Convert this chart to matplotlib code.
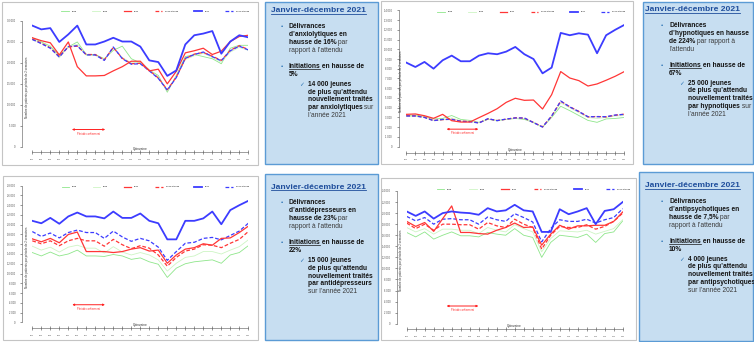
import matplotlib.pyplot as plt
import matplotlib.ticker as mticker
from matplotlib.patches import Rectangle
from matplotlib.lines import Line2D

plt.rcParams['font.family'] = ['Liberation Sans', 'DejaVu Sans']

W, H = 754, 342

quinzaines = ['Q01', 'Q02', 'Q03', 'Q04', 'Q05', 'Q06', 'Q07', 'Q08', 'Q09', 'Q10',
              'Q11', 'Q12', 'Q13', 'Q14', 'Q15', 'Q16', 'Q17', 'Q18', 'Q19', 'Q20',
              'Q21', 'Q22', 'Q23', 'Q24', 'Q25']
series_names = ['2018', '2019', '2020', '2020 attendu', '2021', '2021 attendu']

# anxiolytiques
anx_2018 = [26000, 25000, 24000, 21800, 23800, 25000, 22000, 22000, 21000, 23000, 24000, 21000, 20000,
            18300, 17000, 13000, 17000, 21500, 22000, 21500, 21000, 19800, 23500, 24200, 24200]
anx_2019 = [25500, 24800, 23700, 21200, 24000, 24400, 21800, 21800, 20800, 23500, 21300, 20000, 20200,
            18400, 16600, 13300, 16800, 20800, 21700, 22300, 21300, 20200, 22600, 23700, 23000]
anx_2020 = [26000, 25300, 24800, 21900, 25000, 19100, 16900, 16900, 17000, 18100, 19100, 20400, 20400,
            18100, 18500, 15000, 18000, 22400, 22900, 23500, 22000, 22800, 25100, 26300, 26600]
anx_2020_att = [25700, 24700, 23600, 21500, 23800, 24000, 22000, 22000, 20700, 23700, 21100, 19800, 19900,
                18200, 16400, 13600, 16600, 21000, 22100, 22500, 21600, 20600, 23000, 24100, 23200]
anx_2021 = [28900, 28000, 28300, 25000, 26800, 28900, 24400, 24400, 25100, 26000, 25100, 25100, 23900,
            20600, 20200, 16900, 18200, 24400, 26600, 27000, 27600, 22200, 25100, 26600, 26100]
anx_2021_att = [25600, 24600, 23500, 21400, 23900, 24100, 21900, 21900, 20600, 23800, 21000, 19700, 19800,
                18100, 16300, 13500, 16500, 21100, 22000, 22600, 21500, 20500, 22900, 24000, 23100]

# hypnotiques
hyp_2018 = [3200, 3250, 3100, 2850, 2900, 3200, 2800, 2700, 2500, 2800, 2700, 2800, 2900,
            2800, 2500, 2000, 3000, 4150, 3700, 3200, 2700, 2500, 2850, 2900, 3000]
hyp_2019 = [3100, 3100, 3050, 2700, 2750, 2950, 2650, 2600, 2450, 2850, 2650, 2800, 2900,
            2900, 2450, 2000, 3100, 4500, 4000, 3500, 3000, 2900, 3000, 3150, 3200]
hyp_2020 = [3320, 3360, 3180, 2910, 3320, 2670, 2530, 2530, 2980, 3420, 3900, 4550, 4970,
            4760, 4790, 3870, 5340, 7710, 7050, 6780, 6230, 6440, 6820, 7230, 7710]
hyp_2020_att = [3180, 3170, 3020, 2690, 2780, 2820, 2620, 2590, 2450, 2860, 2690, 2820, 2970,
                2930, 2490, 2040, 3130, 4670, 4100, 3620, 3060, 3100, 3060, 3230, 3340]
hyp_2021 = [8630, 8180, 8700, 8010, 8870, 9350, 8770, 8770, 9350, 9590, 9490, 9760, 10240,
            9490, 9000, 7530, 8120, 11680, 11440, 11640, 11500, 9590, 11440, 12000, 12500]
hyp_2021_att = [3150, 3150, 3000, 2670, 2800, 2800, 2600, 2570, 2430, 2880, 2670, 2840, 2950,
                2950, 2470, 2020, 3150, 4690, 4080, 3600, 3080, 3080, 3080, 3250, 3320]

# antidepresseurs
adep_2018 = [14300, 13600, 14400, 13600, 14000, 14800, 13600, 13600, 13500, 13900, 13600, 12900, 13200,
             12400, 11900, 9200, 11100, 12000, 12400, 12600, 12800, 12100, 13800, 14300, 15700]
adep_2019 = [15600, 14800, 15400, 14400, 15400, 15800, 15200, 15200, 14200, 15500, 14400, 13800, 14300,
             13800, 12800, 10500, 12100, 13300, 13600, 14500, 14500, 14000, 14800, 15500, 16900]
adep_2020 = [17100, 16500, 17200, 16300, 18000, 18500, 14500, 14500, 14500, 14300, 14500, 15000, 15300,
             14600, 14800, 12100, 13800, 15000, 15300, 16100, 15800, 17200, 17300, 18400, 19700]
adep_2020_att = [16700, 16100, 16700, 15700, 16700, 17200, 16700, 16700, 15600, 17000, 15900, 15100, 15700,
                 15200, 13800, 11500, 13300, 14600, 15000, 15900, 15800, 15300, 16200, 17000, 18600]
adep_2021 = [20800, 20300, 21400, 20200, 21700, 22500, 21700, 21700, 21300, 22700, 21400, 21400, 22300,
             20800, 20300, 17000, 17000, 20800, 20800, 21300, 22700, 20100, 23000, 24000, 24900]
adep_2021_att = [18600, 17600, 18300, 17300, 18400, 18900, 18400, 18400, 17200, 18700, 17500, 16600, 17200,
                 16700, 15400, 12700, 14500, 16200, 16400, 17200, 17400, 16900, 17800, 18700, 20300]

# antipsychotiques
apsy_2018 = [16500, 15700, 16600, 15300, 16000, 16600, 15900, 15900, 15700, 16500, 16200, 16000, 17200,
             16000, 15600, 12000, 14700, 16000, 15800, 15600, 16200, 14700, 16300, 16600, 18600]
apsy_2019 = [17400, 16600, 17200, 16200, 17100, 17100, 16900, 16900, 16300, 17400, 16900, 16600, 17900,
             17200, 16600, 13000, 15400, 16800, 16700, 16600, 16900, 16200, 16700, 17200, 18800]
apsy_2020 = [18500, 17600, 18300, 16700, 19000, 21300, 16500, 16500, 16300, 16200, 16900, 17400, 18200,
             17400, 17500, 14200, 16200, 17800, 17100, 17700, 17700, 17800, 17800, 18500, 20200]
apsy_2020_att = [18200, 17200, 18000, 16900, 18000, 18000, 17900, 17900, 17100, 18300, 17700, 17400, 18900,
                 18000, 17400, 13500, 16000, 17600, 17400, 17400, 17900, 17100, 17600, 18500, 20000]
apsy_2021 = [20300, 19500, 20300, 19000, 20000, 20300, 20100, 20000, 19700, 20900, 20300, 20500, 21500,
             20500, 20300, 16600, 16600, 20700, 19800, 20300, 20900, 18000, 20400, 20700, 22000]
apsy_2021_att = [19400, 18600, 19200, 18000, 18900, 19000, 18800, 18800, 18000, 19300, 18800, 18500, 19900,
                 19200, 18400, 14800, 17200, 18800, 18500, 18500, 18900, 18200, 18800, 19200, 20800]

# texte des encadres
notes_anx = [
    ('•', [('Délivrances', 'b')]),
    ('', [('d’anxiolytiques en', 'b')]),
    ('', [('hausse de 16%', 'b'), (' par', 'r')]),
    ('', [('rapport à l’attendu', 'r')]),
    ('•', [('Initiations', 'bu'), (' en hausse de', 'b')]),
    ('', [('5%', 'b')]),
    ('✓', [('14 000 jeunes', 'b')]),
    ('', [('de plus qu’attendu', 'b')]),
    ('', [('nouvellement traités', 'b')]),
    ('', [('par anxiolytiques', 'b'), (' sur', 'r')]),
    ('', [('l’année 2021', 'r')]),
]
notes_hyp = [
    ('•', [('Délivrances', 'b')]),
    ('', [('d’hypnotiques en hausse', 'b')]),
    ('', [('de 224%', 'b'), (' par rapport à', 'r')]),
    ('', [('l’attendu', 'r')]),
    ('•', [('Initiations', 'bu'), (' en hausse de', 'b')]),
    ('', [('67%', 'b')]),
    ('✓', [('25 000 jeunes', 'b')]),
    ('', [('de plus qu’attendu', 'b')]),
    ('', [('nouvellement traités', 'b')]),
    ('', [('par hypnotiques', 'b'), (' sur', 'r')]),
    ('', [('l’année 2021', 'r')]),
]
notes_adep = [
    ('•', [('Délivrances', 'b')]),
    ('', [('d’antidépresseurs en', 'b')]),
    ('', [('hausse de 23%', 'b'), (' par', 'r')]),
    ('', [('rapport à l’attendu', 'r')]),
    ('•', [('Initiations', 'bu'), (' en hausse de', 'b')]),
    ('', [('22%', 'b')]),
    ('✓', [('15 000 jeunes', 'b')]),
    ('', [('de plus qu’attendu', 'b')]),
    ('', [('nouvellement traités', 'b')]),
    ('', [('par antidépresseurs', 'b')]),
    ('', [('sur l’année 2021', 'r')]),
]
notes_apsy = [
    ('•', [('Délivrances', 'b')]),
    ('', [('d’antipsychotiques en', 'b')]),
    ('', [('hausse de 7,5%', 'b'), (' par', 'r')]),
    ('', [('rapport à l’attendu', 'r')]),
    ('•', [('Initiations', 'bu'), (' en hausse de', 'b')]),
    ('', [('10%', 'b')]),
    ('✓', [('4 000 jeunes', 'b')]),
    ('', [('de plus qu’attendu', 'b')]),
    ('', [('nouvellement traités', 'b')]),
    ('', [('par antipsychotiques', 'b')]),
    ('', [('sur l’année 2021', 'r')]),
]

styles = {
    '2018': dict(color='#8ee68a', lw=0.6),
    '2019': dict(color='#cdf5c4', lw=0.6),
    '2020': dict(color='#ff3636', lw=0.9),
    '2020 attendu': dict(color='#ff3636', lw=0.9, ls=(0, (3, 1.6))),
    '2021': dict(color='#3c3cff', lw=1.3),
    '2021 attendu': dict(color='#3c3cff', lw=0.9, ls=(0, (3, 1.6))),
}

BODY = 4.75

fig = plt.figure(figsize=(W / 100, H / 100), dpi=100)
renderer = fig.canvas.get_renderer()


def fx(x):
    return x / W


def fy(y):
    return 1 - y / H


def rect(x0, y0, x1, y1, fc='none', ec='#c4c4c4', lw=0.8):
    fig.add_artist(Rectangle((fx(x0), fy(y1)), (x1 - x0) / W, (y1 - y0) / H,
                             transform=fig.transFigure, facecolor=fc, edgecolor=ec, lw=lw))


def chart(px, data, ymax, step, spine_x, axis_y, legend_y, legend_x, arrow):
    q1, q25, ytop, ybot = px
    ax = fig.add_axes([fx(q1), fy(ybot), (q25 - q1) / W, (ybot - ytop) / H])
    ax.patch.set_alpha(0)
    x = list(range(1, 26))
    lines = {}
    for name in ['2018', '2019', '2020 attendu', '2021 attendu', '2020', '2021']:
        lines[name], = ax.plot(x, data[name], label=name, **styles[name])
    ax.set_xlim(1, 25)
    ax.set_ylim(0, ymax)
    ax.set_xticks(x)
    ax.set_xticklabels(quinzaines)
    ax.set_yticks(range(0, ymax + 1, step))
    ax.yaxis.set_major_formatter(mticker.FuncFormatter(lambda v, p: f'{int(v):,}'.replace(',', ' ')))
    for s in ['top', 'right']:
        ax.spines[s].set_visible(False)
    ax.spines['left'].set_position(('outward', (q1 - spine_x) * 0.72))
    ax.spines['bottom'].set_position(('outward', (axis_y - ybot) * 0.72))
    for s in ['left', 'bottom']:
        ax.spines[s].set_linewidth(0.4)
        ax.spines[s].set_color('#555555')
    ax.tick_params(axis='y', length=1.2, width=0.4, pad=3.5, labelsize=1.8, colors='#444444')
    ax.tick_params(axis='x', direction='inout', length=2.4, width=0.4, pad=3.6, labelsize=1.5,
                   colors='#444444')
    # titre d'axe place entre l'axe et les courbes
    fig.text(fx(q1 - 5.5), fy((ytop + ybot) / 2 + 3), 'Nombre de patients par période de 2 semaines',
             rotation=90, fontsize=2.1, ha='center', va='center', color='#333333')
    fig.text(fx((q1 + q25) / 2), fy(axis_y - 3), 'Quinzaine', fontsize=2.3,
             ha='center', va='center', color='#333333')
    # periode de confinement
    x0, x1, ya, yt = arrow
    ax.annotate('', xy=(x0, ya), xytext=(x1, ya),
                arrowprops=dict(arrowstyle='<|-|>', color='#ff2020', lw=0.7, mutation_scale=2.5,
                                shrinkA=0, shrinkB=0))
    ax.text((x0 + x1) / 2, yt, 'Période confinement', fontsize=1.8, color='#ff2020',
            ha='center', va='center')
    handles = [lines[n] for n in series_names]
    fig.legend(handles, series_names, loc='center', ncol=6, mode='expand', frameon=False,
               bbox_to_anchor=(fx(legend_x[0]), fy(legend_y), (legend_x[1] - legend_x[0]) / W, 0),
               fontsize=1.6, handlelength=3.4, handletextpad=1.3, borderaxespad=0, borderpad=0)
    return ax


def runs(x, y, parts, size):
    for txt, style in parts:
        bold = 'b' in style
        color = '#141414' if bold else '#3a3a3a'
        t = fig.text(fx(x), fy(y), txt, fontsize=size, fontweight='bold' if bold else 'normal',
                     color=color, ha='left', va='baseline')
        bb = t.get_window_extent(renderer)
        if 'u' in style:
            fig.add_artist(Line2D([bb.x0 / W, bb.x1 / W], [fy(y + 1.1)] * 2, transform=fig.transFigure,
                                  color=color, lw=0.5))
        x += bb.width


def notes(box, title_x, title_y, xs, lines):
    rect(*box, fc='#c7def1', ec='#5b9bd5', lw=1.0)
    t = fig.text(fx(title_x), fy(title_y + 3), 'Janvier-décembre 2021', fontsize=6.1,
                 fontweight='bold', color='#1f4e9c', ha='left', va='baseline')
    bb = t.get_window_extent(renderer)
    fig.add_artist(Line2D([bb.x0 / W, bb.x1 / W], [fy(title_y + 4.4)] * 2, transform=fig.transFigure,
                          color='#1f4e9c', lw=0.6))
    offsets = [16, 24, 32, 40, 56, 64, 74, 81.7, 89.4, 97.1, 104.8]
    bullet_x, text_x, check_x, ctext_x = xs
    tx = text_x
    for dy, (marker, parts) in zip(offsets, lines):
        y = title_y + dy + 2.5
        if marker == '•':
            fig.text(fx(bullet_x), fy(y), '•', fontsize=4.6, color='#2e75b6', ha='left', va='baseline')
            tx = text_x
        elif marker == '✓':
            fig.text(fx(check_x), fy(y), '✓', fontsize=4.2, color='#2e75b6', ha='left', va='baseline')
            tx = ctext_x
        runs(tx, y, parts, BODY)


# cadres des graphiques
rect(2, 2, 258, 165)
rect(381, 1, 633, 164)
rect(3, 176, 258, 340)
rect(381, 178, 636, 340)

chart((32.3, 248.3, 21, 146.7),
      {'2018': anx_2018, '2019': anx_2019, '2020': anx_2020, '2020 attendu': anx_2020_att,
       '2021': anx_2021, '2021 attendu': anx_2021_att},
      30000, 5000, 22, 152, 11, (61, 249), (5.4, 9.1, 4100, 3000))
chart((406.3, 624.3, 10.3, 146.7),
      {'2018': hyp_2018, '2019': hyp_2019, '2020': hyp_2020, '2020 attendu': hyp_2020_att,
       '2021': hyp_2021, '2021 attendu': hyp_2021_att},
      14000, 1000, 398.5, 152.7, 11.7, (437, 625), (5.44, 8.93, 1800, 1370))
chart((32.3, 248.3, 185.7, 322.3),
      {'2018': adep_2018, '2019': adep_2019, '2020': adep_2020, '2020 attendu': adep_2020_att,
       '2021': adep_2021, '2021 attendu': adep_2021_att},
      28000, 2000, 21.7, 328, 186.7, (61.7, 249), (5.44, 9.07, 3600, 2700))
chart((406.7, 622.7, 191, 323.7),
      {'2018': apsy_2018, '2019': apsy_2019, '2020': apsy_2020, '2020 attendu': apsy_2020_att,
       '2021': apsy_2021, '2021 attendu': apsy_2021_att},
      24000, 2000, 397, 329.3, 189, (436.7, 630), (5.44, 8.96, 3200, 2500))

notes((265, 2, 378, 164), 271, 9.3, (280.7, 288.7, 299.5, 307.7), notes_anx)
notes((642.5, 2, 753, 164), 645.3, 8.3, (660.7, 669, 679.3, 687.7), notes_hyp)
notes((265, 174, 378, 340), 271, 185.7, (280.7, 288.7, 299.5, 307.7), notes_adep)
notes((639, 172, 753, 341), 645.3, 184.3, (660.7, 669, 679.3, 687.7), notes_apsy)

fig.savefig('out.png', dpi=100)
